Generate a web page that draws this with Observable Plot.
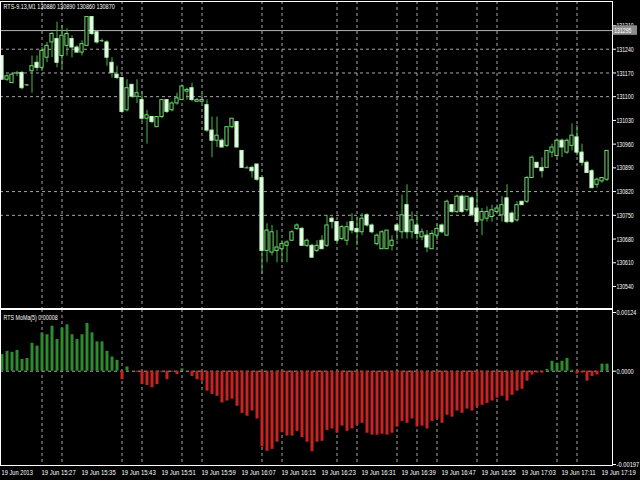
<!DOCTYPE html>
<html><head><meta charset="utf-8">
<script src="https://cdn.jsdelivr.net/npm/d3@7"></script>
<script src="https://cdn.jsdelivr.net/npm/@observablehq/plot@0.6"></script>
<style>
html,body{margin:0;padding:0;background:#000;overflow:hidden;}
#chart svg{display:block;}
</style></head><body><div id="chart"></div>
<script>
// ---------- data ----------
const symbolTitle = "RTS-9.13,M1 130880 130890 130860 130870";
const indicatorTitle = "RTS MoMa(5) 0.00008";

const opens = [
131220,131150,131140,131170,131170,131135,131175,131200,131185,131215,
131260,131270,131220,131250,131270,131245,131230,131250,131335,131290,
131265,131260,131200,131165,131155,131060,131135,131100,131090,131035,
131040,131010,131040,131090,131060,131080,131090,131115,131125,131085,
131085,131075,131000,130970,130970,130955,131010,131025,130940,130890,
130890,130900,130860,130645,130640,130645,130650,130660,130675,130710,
130710,130660,130660,130645,130675,130660,130740,130730,130680,130675,
130730,130710,130700,130750,130720,130665,130650,130650,130660,130720,
130700,130780,130700,130720,130685,130690,130650,130690,130720,130690,
130780,130760,130805,130765,130800,130770,130735,130740,130745,130760,
130750,130800,130755,130735,130790,130790,130860,130905,130890,130890,
130935,130925,130970,130935,130955,130980,130935,130905,130880,130840,
130850,130855];
const highs = [
131220,131165,131170,131175,131175,131135,131220,131220,131245,131260,
131290,131320,131310,131300,131280,131250,131265,131335,131335,131295,
131270,131265,131215,131190,131155,131150,131135,131150,131115,131060,
131040,131040,131090,131090,131085,131110,131135,131125,131140,131095,
131110,131090,131040,131040,130975,131010,131035,131025,130940,130895,
130895,130900,130860,130725,130720,130705,130675,130675,130705,130725,
130715,130680,130665,130675,130690,130750,130745,130730,130720,130730,
130755,130745,130755,130755,130725,130695,130705,130705,130690,130725,
130810,130840,130760,130750,130710,130705,130705,130725,130725,130795,
130780,130810,130810,130805,130805,130825,130770,130775,130780,130780,
130805,130840,130760,130790,130790,130865,130925,130905,130920,130940,
130960,130975,130975,130975,131020,131015,130960,130910,130885,130860,
130860,130940];
const lows = [
131150,131145,131140,131160,131120,131130,131110,131175,131175,131200,
131215,131185,131185,131220,131215,131230,131220,131250,131280,131255,
131260,131190,131155,131150,131050,131055,131095,131080,131025,130960,
131020,131010,131035,131050,131055,131075,131090,131090,131085,131085,
131080,130995,130920,130950,130950,130950,131005,130950,130890,130890,
130860,130850,130575,130610,130630,130610,130610,130610,130675,130705,
130660,130655,130625,130640,130650,130655,130710,130670,130675,130660,
130695,130660,130690,130715,130695,130660,130650,130650,130645,130675,
130680,130680,130680,130675,130675,130640,130650,130675,130695,130690,
130755,130755,130755,130760,130745,130725,130690,130730,130730,130755,
130730,130725,130725,130730,130780,130785,130860,130890,130860,130890,
130920,130920,130920,130930,130940,130925,130895,130875,130830,130830,
130845,130850];
const closes = [
131150,131160,131165,131170,131125,131135,131190,131185,131235,131250,
131285,131200,131280,131285,131245,131230,131255,131335,131285,131260,
131265,131215,131170,131155,131055,131125,131100,131110,131035,131045,
131025,131040,131090,131055,131080,131095,131130,131120,131090,131090,
131090,131000,130970,130985,130950,131010,131035,130950,130890,130890,
130880,130855,130645,130705,130700,130655,130665,130670,130700,130720,
130660,130675,130625,130660,130650,130720,130730,130675,130715,130715,
130705,130700,130740,130720,130700,130690,130700,130705,130675,130705,
130750,130700,130735,130695,130700,130655,130695,130710,130700,130790,
130760,130805,130760,130805,130750,130730,130760,130760,130765,130770,
130780,130730,130730,130780,130780,130860,130920,130890,130880,130940,
130950,130970,130950,130970,130985,130935,130905,130875,130830,130855,
130860,130940];

const histValues = [
0.00035,0.00042,0.00040,0.00044,0.00025,0.00027,0.00059,0.00053,0.00081,0.00077,
0.00095,0.00067,0.00091,0.00098,0.00077,0.00067,0.00077,0.00101,0.00081,0.00062,
0.00062,0.00042,0.00030,0.00023,-0.00018,0.00009,0.00000,-0.00002,-0.00028,-0.00030,
-0.00035,-0.00028,-0.00003,-0.00018,-0.00002,-0.00007,0.00005,-0.00001,-0.00011,-0.00018,
-0.00021,-0.00042,-0.00049,-0.00053,-0.00067,-0.00063,-0.00059,-0.00074,-0.00089,-0.00095,
-0.00084,-0.00101,-0.00160,-0.00169,-0.00165,-0.00150,-0.00130,-0.00137,-0.00137,-0.00127,
-0.00140,-0.00150,-0.00170,-0.00150,-0.00148,-0.00125,-0.00122,-0.00131,-0.00116,-0.00127,
-0.00122,-0.00114,-0.00110,-0.00131,-0.00135,-0.00135,-0.00133,-0.00135,-0.00131,-0.00118,
-0.00106,-0.00110,-0.00101,-0.00118,-0.00116,-0.00122,-0.00106,-0.00101,-0.00110,-0.00093,
-0.00097,-0.00084,-0.00089,-0.00080,-0.00084,-0.00076,-0.00072,-0.00068,-0.00063,-0.00057,
-0.00053,-0.00063,-0.00051,-0.00042,-0.00038,-0.00021,-0.00008,-0.00004,-0.00004,0.00004,
0.00021,0.00017,0.00021,0.00027,0.00002,-0.00006,-0.00004,-0.00021,-0.00011,-0.00008,
0.00015,0.00015];

const priceTicks = [131310,131240,131170,131100,131030,130960,130890,130820,130750,130680,130610,130540];
const priceGrid = [131240,131170,131100,130820,130750];
const levelPrice = 131295;
const gridBars = [8,12,24,28,36,40,52,56,67,71,79,83,87,95,99,111,115];
const xTickBars = [0,8,16,24,32,40,48,56,64,72,80,88,96,104,112,120];
const xTickLabels = ["19 Jun 2013","19 Jun 15:27","19 Jun 15:35","19 Jun 15:43","19 Jun 15:51","19 Jun 15:59",
  "19 Jun 16:07","19 Jun 16:15","19 Jun 16:23","19 Jun 16:31","19 Jun 16:39","19 Jun 16:47",
  "19 Jun 16:55","19 Jun 17:03","19 Jun 17:11","19 Jun 17:19"];
const histTicks = [0.00124, 0, -0.00197];
const histTickLabels = ["0.00124","0.0000","-0.00197"];

// ---------- build ----------
const bars = opens.map((o, i) => ({i, o, h: highs[i], l: lows[i], c: closes[i]}));
const hist = histValues.map((v, i) => ({i, v}));
const xDef = {domain: [-0.3, 122.1], range: [0, 612], axis: null};
const gridColor = "#a8a8a8";
const chartStyle = {background: "#000", color: "#fff", fontFamily: "'Liberation Sans', Arial, sans-serif", fontSize: "8px"};

const priceChart = Plot.plot({
  width: 640, height: 309, marginLeft: 0, marginRight: 28, marginTop: 1, marginBottom: 1,
  style: chartStyle,
  x: xDef,
  y: {domain: [130540, 131310], range: [286, 25], axis: null},
  marks: [
    Plot.ruleY(priceGrid, {stroke: gridColor, strokeDasharray: "3,3"}),
    Plot.ruleX(gridBars, {stroke: gridColor, strokeDasharray: "3,3"}),
    Plot.ruleY([levelPrice], {stroke: "#b4b4b4"}),
    Plot.ruleX(bars, {x: "i", y1: "l", y2: "h", stroke: "#48b848"}),
    Plot.rect(bars.filter(d => d.c > d.o), {x1: d => d.i - 0.32, x2: d => d.i + 0.32, y1: "o", y2: "c", fill: "#000", stroke: "#6be06b"}),
    Plot.rect(bars.filter(d => d.c < d.o), {x1: d => d.i - 0.32, x2: d => d.i + 0.32, y1: "o", y2: "c", fill: "#eaffea", stroke: "#b8f2b8"}),
    Plot.ruleY(bars.filter(d => d.c === d.o), {y: "o", x1: d => d.i - 0.4, x2: d => d.i + 0.4, stroke: "#8ee88e"}),
    Plot.frame({stroke: "#fff"}),
    Plot.axisY(priceTicks, {anchor: "right", tickSize: 3, tickPadding: 1, color: "#fff", label: null, tickFormat: d => String(d)}),
    Plot.rect([levelPrice], {x1: 122.25, x2: 127.1, y1: d => d - 14, y2: d => d + 14, fill: "#8c8c8c", clip: false}),
    Plot.text([levelPrice], {y: d => d, x: 122.45, text: d => String(d), textAnchor: "start", fill: "#fff"}),
    Plot.text([symbolTitle], {frameAnchor: "top-left", dx: 3, dy: 2, lineAnchor: "top", textAnchor: "start", fill: "#fff"})
  ]
});

const indicatorChart = Plot.plot({
  width: 640, height: 171, marginLeft: 0, marginRight: 28, marginTop: 0, marginBottom: 15,
  style: chartStyle,
  x: xDef,
  y: {domain: [-0.00197, 0.00124], range: [155, 3], axis: null},
  marks: [
    Plot.ruleX(gridBars, {stroke: gridColor, strokeDasharray: "3,3"}),
    Plot.ruleY([0], {stroke: gridColor, strokeDasharray: "3,3"}),
    Plot.ruleX(hist.filter(d => d.v > 0), {x: "i", y1: 0, y2: "v", stroke: "#2e8b2e", strokeWidth: 3}),
    Plot.ruleX(hist.filter(d => d.v < 0), {x: "i", y1: 0, y2: "v", stroke: "#cc2222", strokeWidth: 3}),
    Plot.frame({stroke: "#fff"}),
    Plot.axisY(histTicks, {anchor: "right", tickSize: 3, tickPadding: 1, color: "#fff", label: null,
      tickFormat: d => histTickLabels[histTicks.indexOf(d)]}),
    Plot.text([indicatorTitle], {frameAnchor: "top-left", dx: 3, dy: 5, lineAnchor: "top", textAnchor: "start", fill: "#fff"}),
    Plot.text(xTickBars, {x: d => d, text: (d, i) => xTickLabels[i], frameAnchor: "bottom", dy: 9, dx: -0.5, textAnchor: "start", fill: "#fff", clip: false})
  ]
});

const root = document.getElementById("chart");
root.appendChild(priceChart);
root.appendChild(indicatorChart);
// condensed terminal-like lettering
for (const svg of [priceChart, indicatorChart]) {
  svg.querySelectorAll("text").forEach(t => {
    const n = t.textContent.length;
    if (n > 0) {
      t.setAttribute("textLength", (n * 2.85).toFixed(1));
      t.setAttribute("lengthAdjust", "spacingAndGlyphs");
    }
  });
}
</script>
</body></html>
